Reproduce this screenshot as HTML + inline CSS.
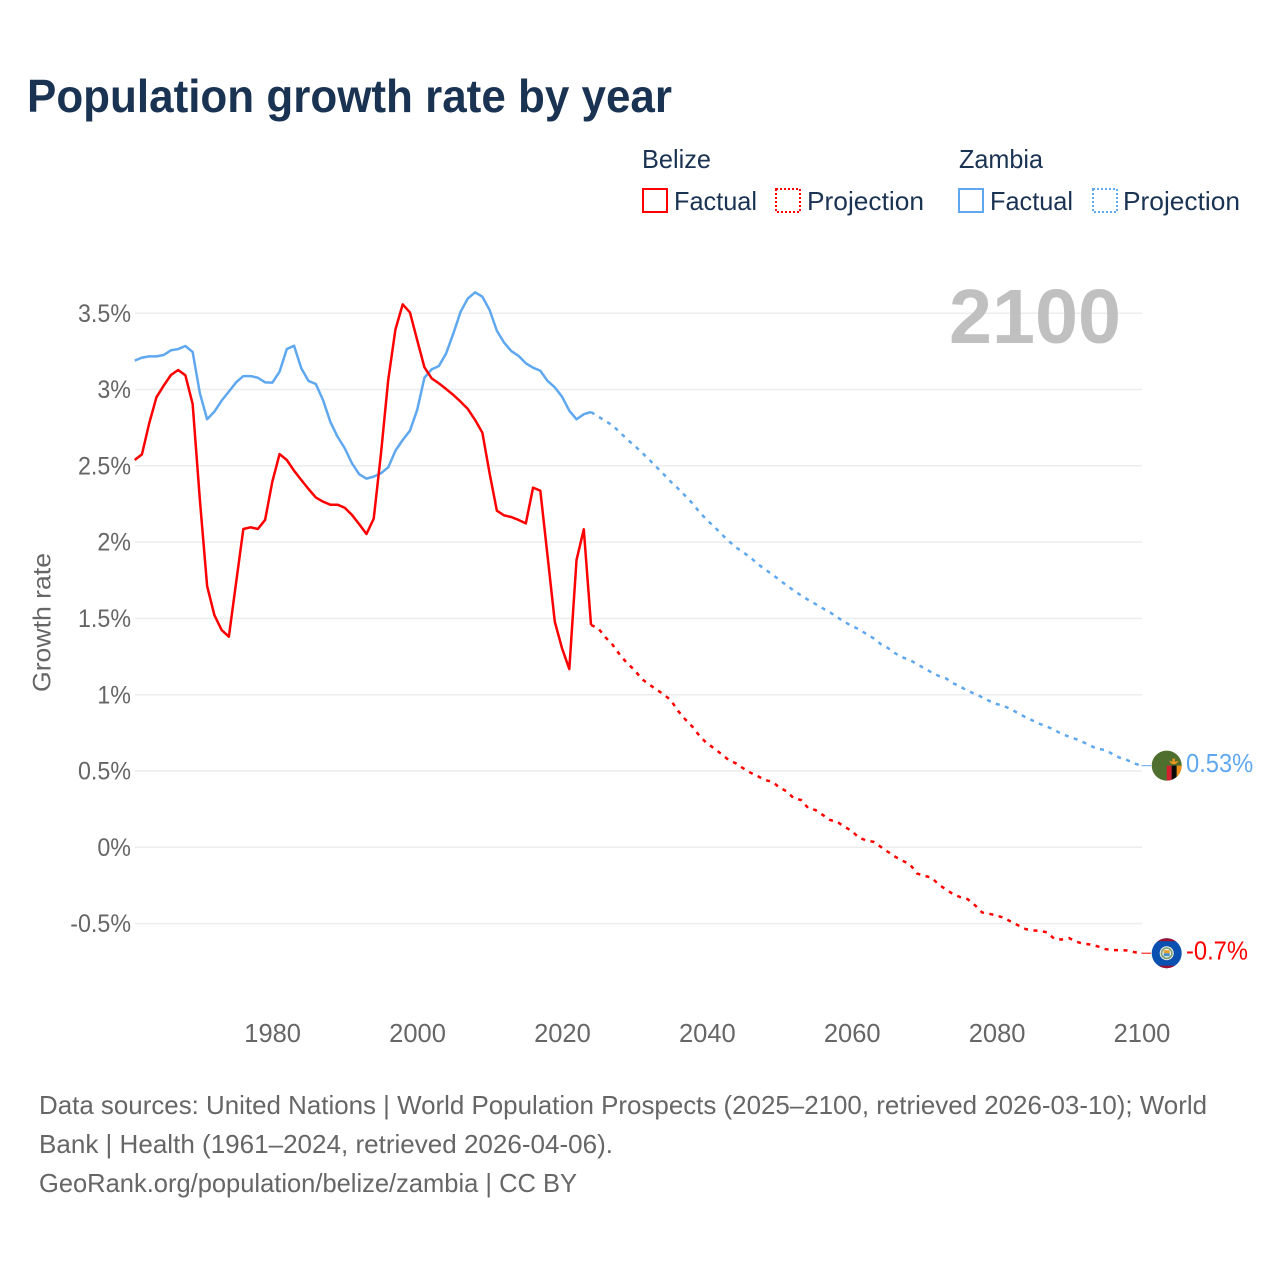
<!DOCTYPE html>
<html lang="en">
<head>
<meta charset="utf-8">
<title>Population growth rate by year</title>
<style>
html,body{margin:0;padding:0;background:#fff;}
svg{display:block;font-family:"Liberation Sans",sans-serif;}
</style>
</head>
<body>
<svg id="chart" width="1280" height="1280" viewBox="0 0 1280 1280" xmlns="http://www.w3.org/2000/svg">
  <rect x="0" y="0" width="1280" height="1280" fill="#ffffff"/>
  <text x="27" y="112" font-size="46" font-weight="700" fill="#1a3352" textLength="645" lengthAdjust="spacingAndGlyphs">Population growth rate by year</text>

  <g font-size="26" fill="#1a3352">
    <text x="642" y="168" textLength="69" lengthAdjust="spacingAndGlyphs">Belize</text>
    <text x="959" y="168" textLength="84" lengthAdjust="spacingAndGlyphs">Zambia</text>
    <g>
      <rect x="643" y="189" width="24" height="23" fill="none" stroke="#ff0000" stroke-width="2"/>
      <text x="674" y="210" textLength="83" lengthAdjust="spacingAndGlyphs">Factual</text>
    </g>
    <g>
      <rect x="776" y="189" width="24" height="23" fill="none" stroke="#ff0000" stroke-width="2" stroke-dasharray="2 2"/>
      <text x="807" y="210" textLength="117" lengthAdjust="spacingAndGlyphs">Projection</text>
    </g>
    <g>
      <rect x="959" y="189" width="24" height="23" fill="none" stroke="#5fa8f0" stroke-width="2"/>
      <text x="990" y="210" textLength="83" lengthAdjust="spacingAndGlyphs">Factual</text>
    </g>
    <g>
      <rect x="1093" y="189" width="24" height="23" fill="none" stroke="#5fa8f0" stroke-width="2" stroke-dasharray="2 2"/>
      <text x="1123" y="210" textLength="117" lengthAdjust="spacingAndGlyphs">Projection</text>
    </g>
  </g>

  <g id="grid"></g>
  <text x="949" y="343" font-size="77" font-weight="700" fill="#c0c0c0" textLength="172" lengthAdjust="spacingAndGlyphs">2100</text>
  <g id="yticks" font-size="25" fill="#666666" text-anchor="end"></g>
  <g id="xticks" font-size="25.5" fill="#666666" text-anchor="middle"></g>
  <text transform="translate(50.5,692) rotate(-90)" x="0" y="0" font-size="25" fill="#666666" textLength="139" lengthAdjust="spacingAndGlyphs">Growth rate</text>
  <g id="series"></g>
  <g id="ends"></g>

  <g font-size="26" fill="#666666">
    <text x="39" y="1114" textLength="1168" lengthAdjust="spacingAndGlyphs">Data sources: United Nations | World Population Prospects (2025–2100, retrieved 2026-03-10); World</text>
    <text x="39" y="1153" textLength="574" lengthAdjust="spacingAndGlyphs">Bank | Health (1961–2024, retrieved 2026-04-06).</text>
    <text x="39" y="1192" textLength="538" lengthAdjust="spacingAndGlyphs">GeoRank.org/population/belize/zambia | CC BY</text>
  </g>
</svg>
<script>
const firstYear = 1961;
const lastFactualYear = 2024;
const yTickValues = [-0.5, 0, 0.5, 1, 1.5, 2, 2.5, 3, 3.5];
const yTickLabels = ["-0.5%", "0%", "0.5%", "1%", "1.5%", "2%", "2.5%", "3%", "3.5%"];
const xTickYears = [1980, 2000, 2020, 2040, 2060, 2080, 2100];
const belizeFactual = [2.538,2.575,2.778,2.949,3.025,3.095,3.128,3.093,2.905,2.276,1.712,1.522,1.424,1.38,1.734,2.086,2.097,2.086,2.145,2.396,2.577,2.538,2.468,2.407,2.348,2.293,2.265,2.245,2.245,2.225,2.178,2.117,2.053,2.154,2.58,3.062,3.394,3.558,3.505,3.324,3.145,3.073,3.04,3.003,2.964,2.92,2.872,2.8,2.717,2.45,2.206,2.175,2.164,2.145,2.123,2.357,2.337,1.909,1.478,1.304,1.168,1.883,2.084,1.457];
const belizeProjection = [1.457,1.435,1.376,1.326,1.26,1.206,1.162,1.103,1.068,1.035,1.003,0.965,0.895,0.839,0.79,0.729,0.681,0.649,0.611,0.572,0.55,0.518,0.489,0.467,0.441,0.43,0.393,0.367,0.321,0.31,0.256,0.244,0.212,0.179,0.166,0.135,0.107,0.063,0.045,0.036,0.003,-0.03,-0.062,-0.088,-0.11,-0.171,-0.187,-0.198,-0.244,-0.276,-0.307,-0.327,-0.34,-0.379,-0.427,-0.436,-0.447,-0.462,-0.488,-0.512,-0.536,-0.545,-0.547,-0.558,-0.602,-0.604,-0.595,-0.619,-0.632,-0.637,-0.65,-0.667,-0.674,-0.674,-0.676,-0.687,-0.694];
const zambiaFactual = [3.189,3.209,3.217,3.217,3.226,3.257,3.265,3.285,3.246,2.975,2.805,2.855,2.927,2.986,3.047,3.088,3.088,3.077,3.047,3.045,3.117,3.265,3.287,3.139,3.056,3.036,2.931,2.789,2.691,2.615,2.516,2.444,2.416,2.429,2.451,2.49,2.599,2.669,2.73,2.866,3.077,3.132,3.154,3.237,3.368,3.51,3.597,3.637,3.608,3.521,3.385,3.307,3.252,3.22,3.172,3.143,3.123,3.056,3.014,2.953,2.861,2.805,2.838,2.852];
const zambiaProjection = [2.852,2.822,2.794,2.763,2.719,2.673,2.632,2.588,2.542,2.494,2.446,2.396,2.352,2.304,2.254,2.195,2.145,2.101,2.053,2.007,1.966,1.933,1.9,1.857,1.822,1.789,1.752,1.717,1.682,1.651,1.621,1.594,1.566,1.54,1.507,1.478,1.45,1.429,1.398,1.37,1.332,1.306,1.271,1.245,1.227,1.201,1.173,1.147,1.123,1.107,1.075,1.052,1.026,1.005,0.983,0.959,0.939,0.926,0.904,0.878,0.852,0.83,0.808,0.79,0.769,0.742,0.725,0.708,0.688,0.664,0.644,0.638,0.611,0.587,0.572,0.55,0.535];
const belizeEndLabel = "-0.7%";
const zambiaEndLabel = "0.53%";

const NS = "http://www.w3.org/2000/svg";
const xLeft = 134.7, xRight = 1141.5, yearSpan = 139;
const yZero = 847.3, pxPerUnit = 152.6;
const gridLeft = 135, gridRight = 1142;
function xScale(year) { return xLeft + (year - firstYear) * (xRight - xLeft) / yearSpan; }
function yScale(v) { return yZero - v * pxPerUnit; }
function make(tag, attrs, parent) {
  const el = document.createElementNS(NS, tag);
  for (const k in attrs) el.setAttribute(k, attrs[k]);
  parent.appendChild(el);
  return el;
}
function pathFrom(values, startYear) {
  return values.map(function (v, i) {
    return (i ? "L" : "M") + xScale(startYear + i).toFixed(2) + " " + yScale(v).toFixed(2);
  }).join(" ");
}
function condense(textEl, factor) {
  const len = textEl.getComputedTextLength();
  textEl.setAttribute("textLength", (len * factor).toFixed(2));
  textEl.setAttribute("lengthAdjust", "spacingAndGlyphs");
}

const gridG = document.getElementById("grid");
const yticksG = document.getElementById("yticks");
yTickValues.forEach(function (v, i) {
  const line = make("line", { x1: gridLeft, x2: gridRight, y1: yScale(v), y2: yScale(v), stroke: "#ececec", "stroke-width": 1.5 }, gridG);
  
  
  const t = make("text", { x: 131, y: yScale(v) + 8.6 }, yticksG);
  
  
  t.textContent = yTickLabels[i];
  condense(t, 0.93);
});

const xticksG = document.getElementById("xticks");
xTickYears.forEach(function (yr) {
  const t = make("text", { x: gridLeft + (yr - firstYear) * (gridRight - gridLeft) / yearSpan, y: 1042 }, xticksG);
  
  
  t.textContent = String(yr);
});

const seriesG = document.getElementById("series");
const red = "#ff0000", blue = "#5fa8f0";

const zf = make("path", { d: pathFrom(zambiaFactual, firstYear), fill: "none", stroke: blue, "stroke-width": 2.5, "stroke-linejoin": "round" }, seriesG);


const zp = make("path", { d: pathFrom(zambiaProjection, lastFactualYear), fill: "none", stroke: blue, "stroke-width": 2.5, "stroke-dasharray": "4 5.5" }, seriesG);


const bf = make("path", { d: pathFrom(belizeFactual, firstYear), fill: "none", stroke: red, "stroke-width": 2.5, "stroke-linejoin": "round" }, seriesG);


const bp = make("path", { d: pathFrom(belizeProjection, lastFactualYear), fill: "none", stroke: red, "stroke-width": 2.5, "stroke-dasharray": "4 5.5" }, seriesG);



const endsG = document.getElementById("ends");
const defs = make("defs", {}, endsG);
const flagX = 1166.7, flagR = 15;

function endMarker(values, color, labelText, key) {
  const y = yScale(values[values.length - 1]);
  const conn = make("line", { x1: xRight, x2: 1151, y1: y, y2: y, stroke: color, "stroke-width": 1 }, endsG);
  
  
  const lbl = make("text", { x: 1186, y: y + 6.4, "font-size": 25.5, fill: color }, endsG);
  
  
  lbl.textContent = labelText;
  condense(lbl, 0.93);
  const clip = make("clipPath", { id: key + "-clip" }, defs);
  make("circle", { cx: 0, cy: 0, r: flagR }, clip);
  const g = make("g", { transform: "translate(" + flagX + "," + y.toFixed(2) + ")", "clip-path": "url(#" + key + "-clip)" }, endsG);
  
  
  return g;
}

const zg = endMarker(zambiaProjection, blue, zambiaEndLabel, "zambia");
make("rect", { x: -16, y: -16, width: 32, height: 32, fill: "#4f6f2f" }, zg);
make("rect", { x: 0, y: 0, width: 5, height: 16, fill: "#d32030" }, zg);
make("rect", { x: 5, y: 0, width: 5, height: 16, fill: "#0a0a0a" }, zg);
make("rect", { x: 10, y: 0, width: 6, height: 16, fill: "#f08c1a" }, zg);
make("path", { d: "M2.5 -5 Q7 -3 12 -5 Q10 -2 8.5 -1.5 L5.5 -1.5 Q4 -2 2.5 -5 Z M5.5 -7 L8.5 -7 L8 -4 L6 -4 Z", fill: "#ec9420" }, zg);

const bg = endMarker(belizeProjection, red, belizeEndLabel, "belize");
make("rect", { x: -16, y: -16, width: 32, height: 32, fill: "#0a50b0" }, bg);
make("rect", { x: -16, y: -16, width: 32, height: 4, fill: "#a01030" }, bg);
make("rect", { x: -16, y: 12.5, width: 32, height: 4, fill: "#a01030" }, bg);
make("circle", { cx: 0, cy: 0, r: 7, fill: "#f2f2ee" }, bg);
make("circle", { cx: 0, cy: 0, r: 5.2, fill: "none", stroke: "#7da070", "stroke-width": 1.6 }, bg);
make("rect", { x: -3, y: -3, width: 6, height: 3, fill: "#e8a030" }, bg);
make("rect", { x: -3, y: 0, width: 6, height: 3, fill: "#4a90c0" }, bg);
</script>
</body>
</html>
